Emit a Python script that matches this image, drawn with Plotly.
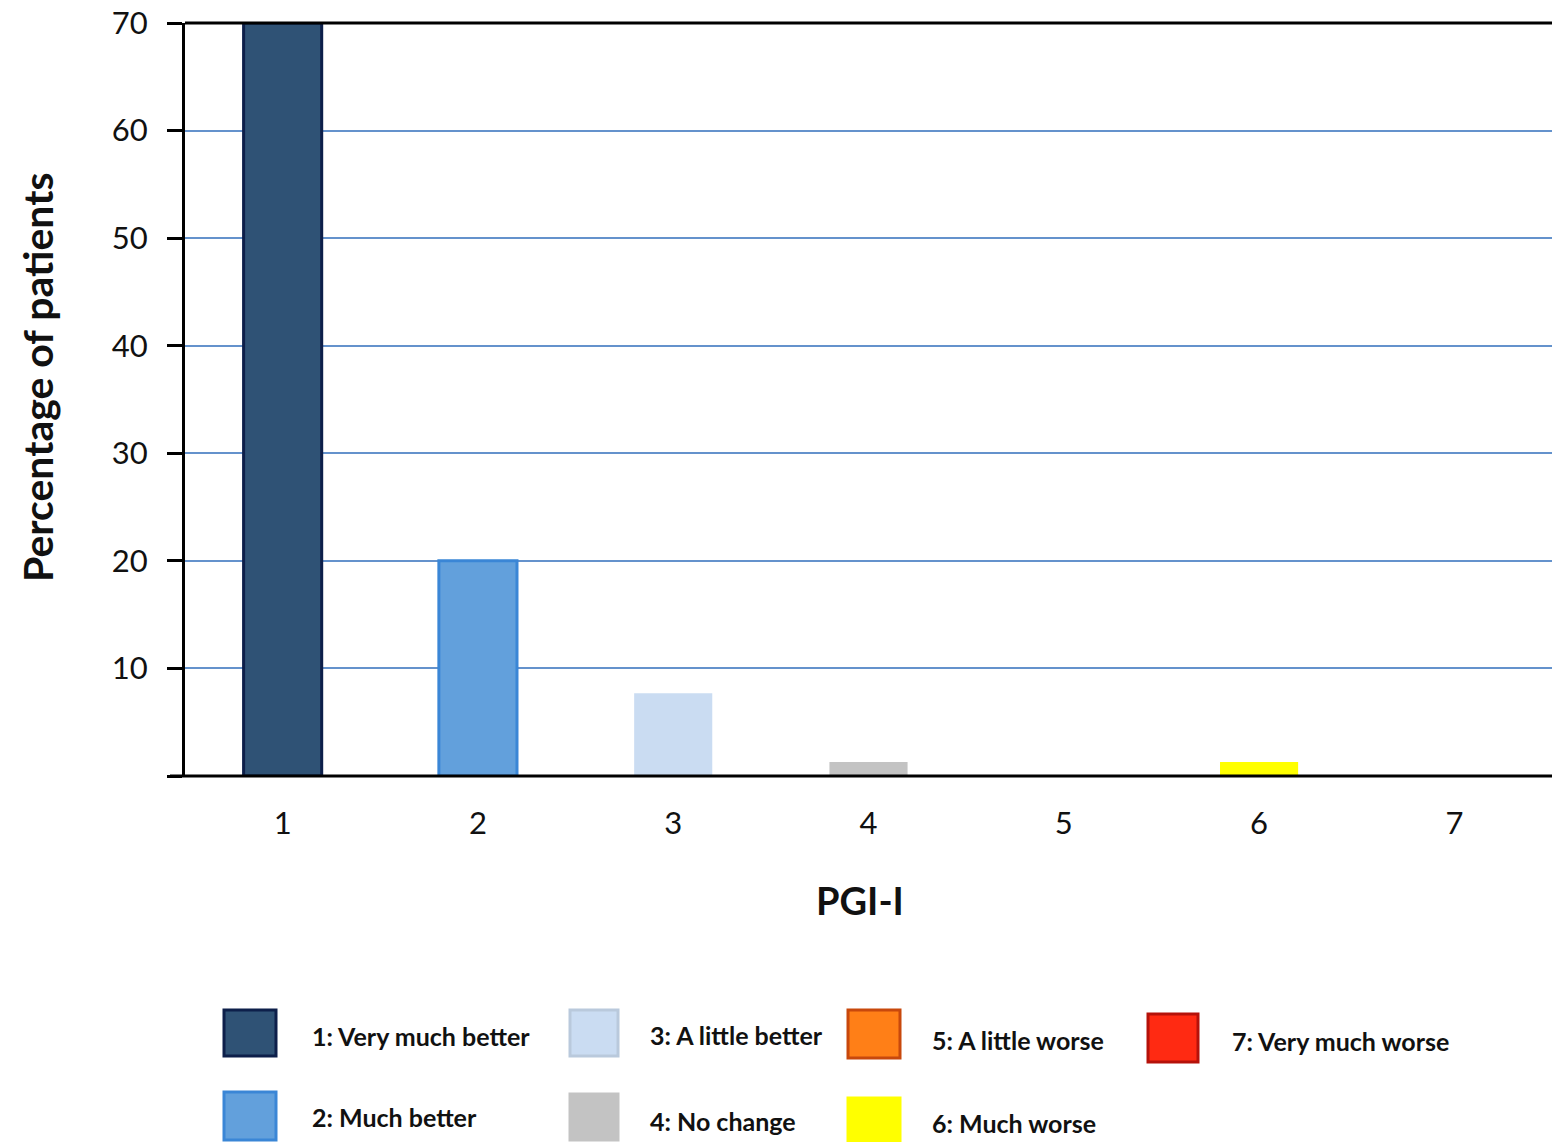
import plotly.graph_objects as go

# ---- data ----
categories = ["1", "2", "3", "4", "5", "6", "7"]
percentages = [70, 20, 7.7, 1.3, 0, 1.3, 0]
legend_labels = ["1: Very much better", "2: Much better", "3: A little better",
                 "4: No change", "5: A little worse", "6: Much worse", "7: Very much worse"]
y_ticks = [0, 10, 20, 30, 40, 50, 60, 70]
y_ticktext = ["", "10", "20", "30", "40", "50", "60", "70"]

# ---- styles ----
fill_colors = ["#2f5275", "#62a0dc", "#cadcf2", "#c3c3c3", "#ff7f17", "#ffff00", "#ff2a12"]
line_colors = ["#0d1f4a", "#3a86d6", "#cadcf2", "#c3c3c3", "#c8480c", "#ffff00", "#b5120a"]

W, H = 1552, 1142
PX0, PX1 = 185, 1552          # plot area in window pixels
PY0, PY1 = 23, 776
L, R, T, B = PX0, W - PX1, PY0, H - PY1


def px(x):
    return (x - PX0) / (PX1 - PX0)


def py(y):
    return (PY1 - y) / (PY1 - PY0)


fig = go.Figure()
for i, c in enumerate(categories):
    fig.add_trace(go.Bar(
        x=[c], y=[percentages[i]],
        marker=dict(color=fill_colors[i], line=dict(color=line_colors[i], width=3 if i < 2 else 0)),
        width=0.4, showlegend=False, name=legend_labels[i],
    ))

fig.update_layout(
    width=W, height=H,
    margin=dict(l=L, r=R, t=T, b=B, autoexpand=False),
    paper_bgcolor="white", plot_bgcolor="white",
    font=dict(family="Lato", color="#111111"),
    bargap=0.6,
)
fig.update_xaxes(
    type="category", range=[-0.5, 6.5],
    showgrid=False, showline=False, ticks="",
    tickfont=dict(size=31, color="#111111"), ticklabelstandoff=26,
    ticklabeloverflow="allow",
)
fig.update_yaxes(
    range=[0, 70], tickvals=y_ticks, ticktext=y_ticktext,
    showgrid=True, gridcolor="#6492cc", gridwidth=2,
    showline=True, linecolor="#000000", linewidth=3,
    ticks="outside", ticklen=15, tickwidth=3, tickcolor="#000000",
    tickfont=dict(size=31, color="#111111"), ticklabelstandoff=13,
    ticklabeloverflow="allow",
    zeroline=False,
)

shapes = []
shapes.append(dict(type="line", xref="paper", yref="paper", x0=0, x1=1, y0=1, y1=1,
                   line=dict(color="#000000", width=3)))
shapes.append(dict(type="line", xref="paper", yref="paper", x0=px(170), x1=1, y0=0, y1=0,
                   line=dict(color="#000000", width=3)))

annotations = [
    dict(text="<b>Percentage of patients</b>", xref="paper", yref="paper",
         x=px(37), y=py(378), textangle=-90, showarrow=False,
         font=dict(size=41, color="#111111"), xanchor="center", yanchor="middle"),
    dict(text="<b>PGI-I</b>", xref="paper", yref="paper",
         x=px(860), y=py(900), showarrow=False,
         font=dict(size=38, color="#111111"), xanchor="center", yanchor="middle"),
]

box_pos = [(224, 1010, 276, 1056), (224, 1092, 276, 1140),
           (570, 1010, 618, 1056), (570, 1094, 618, 1140),
           (848, 1010, 900, 1058), (848, 1098, 900, 1142),
           (1148, 1014, 1198, 1062)]
text_pos = [(310, 1036), (310, 1117), (648, 1035), (648, 1121),
            (930, 1040), (930, 1123), (1230, 1041)]
for i, lab in enumerate(legend_labels):
    x0, y0, x1, y1 = box_pos[i]
    shapes.append(dict(type="rect", xref="paper", yref="paper",
                       x0=px(x0), x1=px(x1), y0=py(y1), y1=py(y0),
                       fillcolor=fill_colors[i],
                       line=dict(color=line_colors[i] if i != 2 else "#b9c9dc", width=3)))
    tx, ty = text_pos[i]
    annotations.append(dict(text="<b>" + lab + "</b>", xref="paper", yref="paper",
                            x=px(tx), y=py(ty), showarrow=False, xanchor="left", yanchor="middle",
                            font=dict(size=25, color="#111111")))

fig.update_layout(shapes=shapes, annotations=annotations)
fig.write_html("out.html", config={"displayModeBar": False},
               post_script="document.body.style.margin='0';document.body.style.overflow='hidden';")
